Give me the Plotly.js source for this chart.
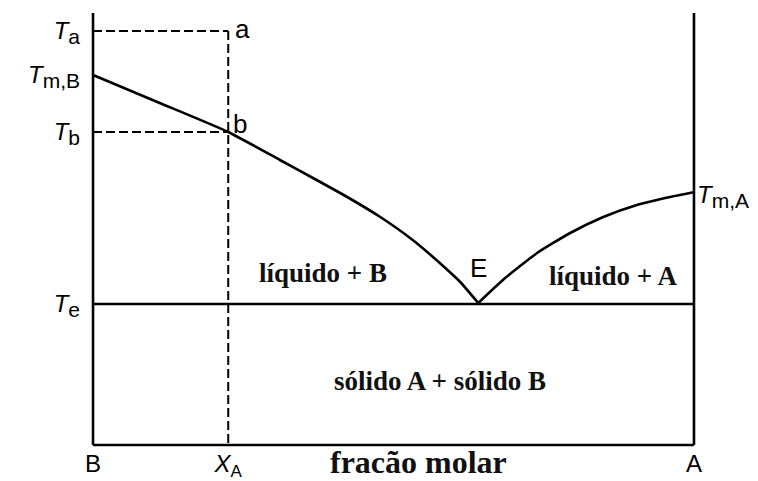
<!DOCTYPE html>
<html>
<head>
<meta charset="utf-8">
<script src="https://cdn.plot.ly/plotly-3.0.1.min.js"></script>
<style>html,body{margin:0;padding:0;background:#fff;}#chart{width:758px;height:481px;}</style>
</head>
<body>
<div id="chart"></div>
<script>
// Liquidus curve on the B-rich side (x = mole fraction of A, T in arbitrary units)
const liqBx = [0, 0.111, 0.225, 0.311, 0.366, 0.423, 0.478, 0.532, 0.577, 0.611, 0.641];
const liqBT = [370, 342, 313, 285, 267, 248, 228, 205, 182, 163, 142];
// Liquidus curve on the A-rich side
const liqAx = [0.641, 0.682, 0.739, 0.794, 0.849, 0.905, 0.960, 0.993, 1.0];
const liqAT = [142, 165, 192, 212, 228, 240, 248, 252, 253];
// Key temperatures / compositions
const Ta = 414, TmB = 370, Tb = 313, Te = 141, TmA = 253, Ttop = 432;
const xA = 0.225, xE = 0.641, TE = 142;
function tlab(sub) { return '<i>T</i><sub><span style="font-size:21px">' + sub + '</span></sub>'; }
const yTickVals = [Ta, TmB, Tb, Te];
const yTickText = [tlab('a'), tlab('m,B'), tlab('b'), tlab('e')];
const xTickVals = [0, xA, 1];
const xTickText = ['B', '<i>X</i><sub><span style="font-size:17px">A</span></sub>', 'A'];

const solid = {color: '#000', width: 2.6};
const dashed = {color: '#000', width: 2, dash: '9px,4px'};
function tr(x, y, line, shape) {
  return {x: x, y: y, mode: 'lines', line: Object.assign({}, line, shape ? {shape: shape, smoothing: 0.5} : {}), hoverinfo: 'skip', showlegend: false};
}
const data = [
  tr([0, 0], [0, Ttop], solid),
  tr([1, 1], [0, Ttop], solid),
  tr([0, 1], [0, 0], solid),
  tr([0, 1], [Te, Te], solid),
  tr(liqBx, liqBT, solid, 'spline'),
  tr(liqAx, liqAT, solid, 'spline'),
  tr([0, xA], [Ta, Ta], dashed),
  tr([xA, xA], [Ta, 0], dashed),
  tr([0, xA], [Tb, Tb], dashed)
];
const sans = {family: 'Liberation Sans, Arial, sans-serif', size: 24, color: '#000'};
const sansL = {family: 'Liberation Sans, Arial, sans-serif', size: 26, color: '#000'};
const serif = {family: 'Liberation Serif, Times New Roman, serif', size: 27, color: '#111'};
function ann(x, y, text, font, extra) {
  return Object.assign({x: x, y: y, xref: 'x', yref: 'y', text: text, showarrow: false, font: font}, extra || {});
}
const layout = {
  width: 758, height: 481,
  margin: {l: 81, r: 52, t: 0, b: 34},
  paper_bgcolor: '#fff', plot_bgcolor: '#fff',
  xaxis: {range: [-0.02, 1.02], showgrid: false, zeroline: false, showline: false,
          tickvals: xTickVals, ticktext: xTickText, ticks: '', tickfont: sans},
  yaxis: {range: [-2, 445], showgrid: false, zeroline: false, showline: false,
          tickvals: yTickVals, ticktext: yTickText, ticks: '', tickfont: sans},
  annotations: [
    ann(xA, Ta, 'a', sansL, {xanchor: 'left', xshift: 5, yshift: 2}),
    ann(xA, Tb, 'b', sansL, {xanchor: 'left', xshift: 3, yshift: 8}),
    ann(xE, TE, 'E', sansL, {yanchor: 'bottom', yshift: 18}),
    ann(1, TmA, tlab('m,A'), sans, {xanchor: 'left', xshift: 1, yshift: -4}),
    ann(0.382, 172, '<b>líquido + B</b>', serif),
    ann(0.865, 169, '<b>líquido + A</b>', serif),
    ann(0.577, 64, '<b>sólido A + sólido B</b>', serif),
    {x: 0.54, y: 0, xref: 'paper', yref: 'paper', yanchor: 'top', yshift: 5, showarrow: false,
     text: '<b>fracão molar</b>', font: {family: 'Liberation Serif, Times New Roman, serif', size: 32, color: '#111'}}
  ]
};
Plotly.newPlot('chart', data, layout, {displayModeBar: false, staticPlot: true});
</script>
</body>
</html>
